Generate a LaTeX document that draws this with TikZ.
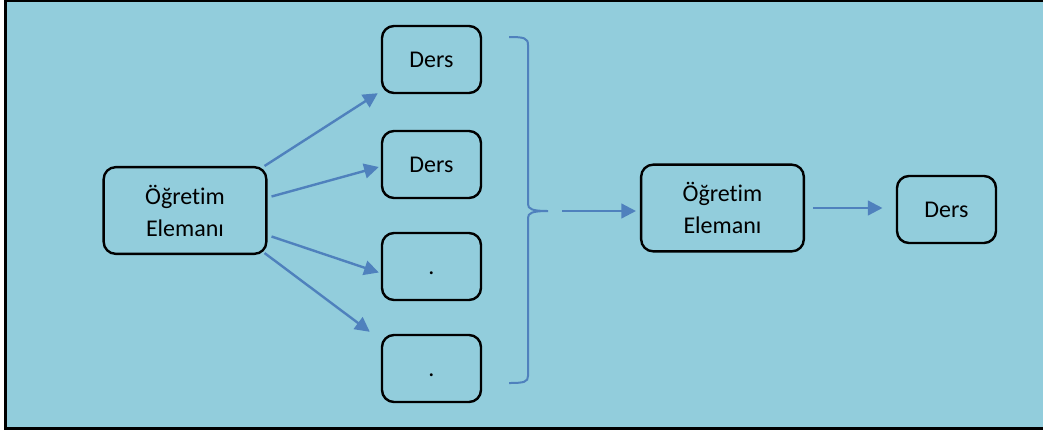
\documentclass[tikz,border=0pt]{standalone}
\usepackage{fontspec}
\setmainfont{Carlito}[Ligatures=NoCommon]
\usepackage{tikz}
\usetikzlibrary{arrows.meta, calc}
\definecolor{aqua}{RGB}{146, 205, 220}
\definecolor{accent}{RGB}{79, 129, 189}

\begin{document}
\begin{tikzpicture}[x=0.75pt, y=-0.75pt,
  box/.style={draw=black, line width=1.8pt, rounded corners=9pt, align=center, inner sep=0pt, font=\fontsize{18}{24}\selectfont},
  small/.style={box, minimum width=74.25pt, minimum height=50.25pt},
  large/.style={box, minimum width=122pt, minimum height=65pt},
  arr/.style={draw=accent, line width=1.8pt, -{Triangle[length=11pt, width=11pt]}}]
  \useasboundingbox (0,0) rectangle (1043,430);
  \draw[fill=aqua, line width=1.8pt] (5.5,1) rectangle (1047,428.5);

  \node[large] (teach) at (185, 210.5) {Öğretim\\Elemanı};

  \node[small] (d1) at (431.5, 59.5) {Ders};
  \node[small] (d2) at (431.5, 164.5) {Ders};
  \node[small] (d3) at (431.5, 266.5) {\vphantom{D}.};
  \node[small] (d4) at (431.5, 368.5) {\vphantom{D}.};

  \draw[arr] ($(teach.north east)+(-3,0)$) -- ($(d1.south west)+(-3,-1)$);
  \draw[arr] ($(teach.east)+(4,-14)$) -- ($(d2.west)+(-2,2.5)$);
  \draw[arr] ($(teach.east)+(4,26)$) -- ($(d3.west)+(-2,6)$);
  \draw[arr] ($(teach.south east)+(-3,-2)$) -- ($(d4.north west)+(-11,-2)$);

  \coordinate (tip) at (548, 211);
  \draw[accent, line width=1.5pt] (509,37) .. controls (524,37) and (528,38) .. (528,45) -- (528,204)
    .. controls (528,209) and (532,211) .. (tip)
    .. controls (532,211) and (528,213) .. (528,218) -- (528,376)
    .. controls (528,382) and (524,383) .. (509,383);

  \node[large] (mid) at (722.5, 208) {Öğretim\\Elemanı};
  \node[small] (last) at (946.5, 209.5) {Ders};

  \draw[arr, shorten <=10.5pt, shorten >=3pt] (tip) -- (tip -| mid.west);
  \draw[arr, shorten <=6pt, shorten >=10pt] (mid.east) -- (mid.east -| last.west);

\end{tikzpicture}
\end{document}
